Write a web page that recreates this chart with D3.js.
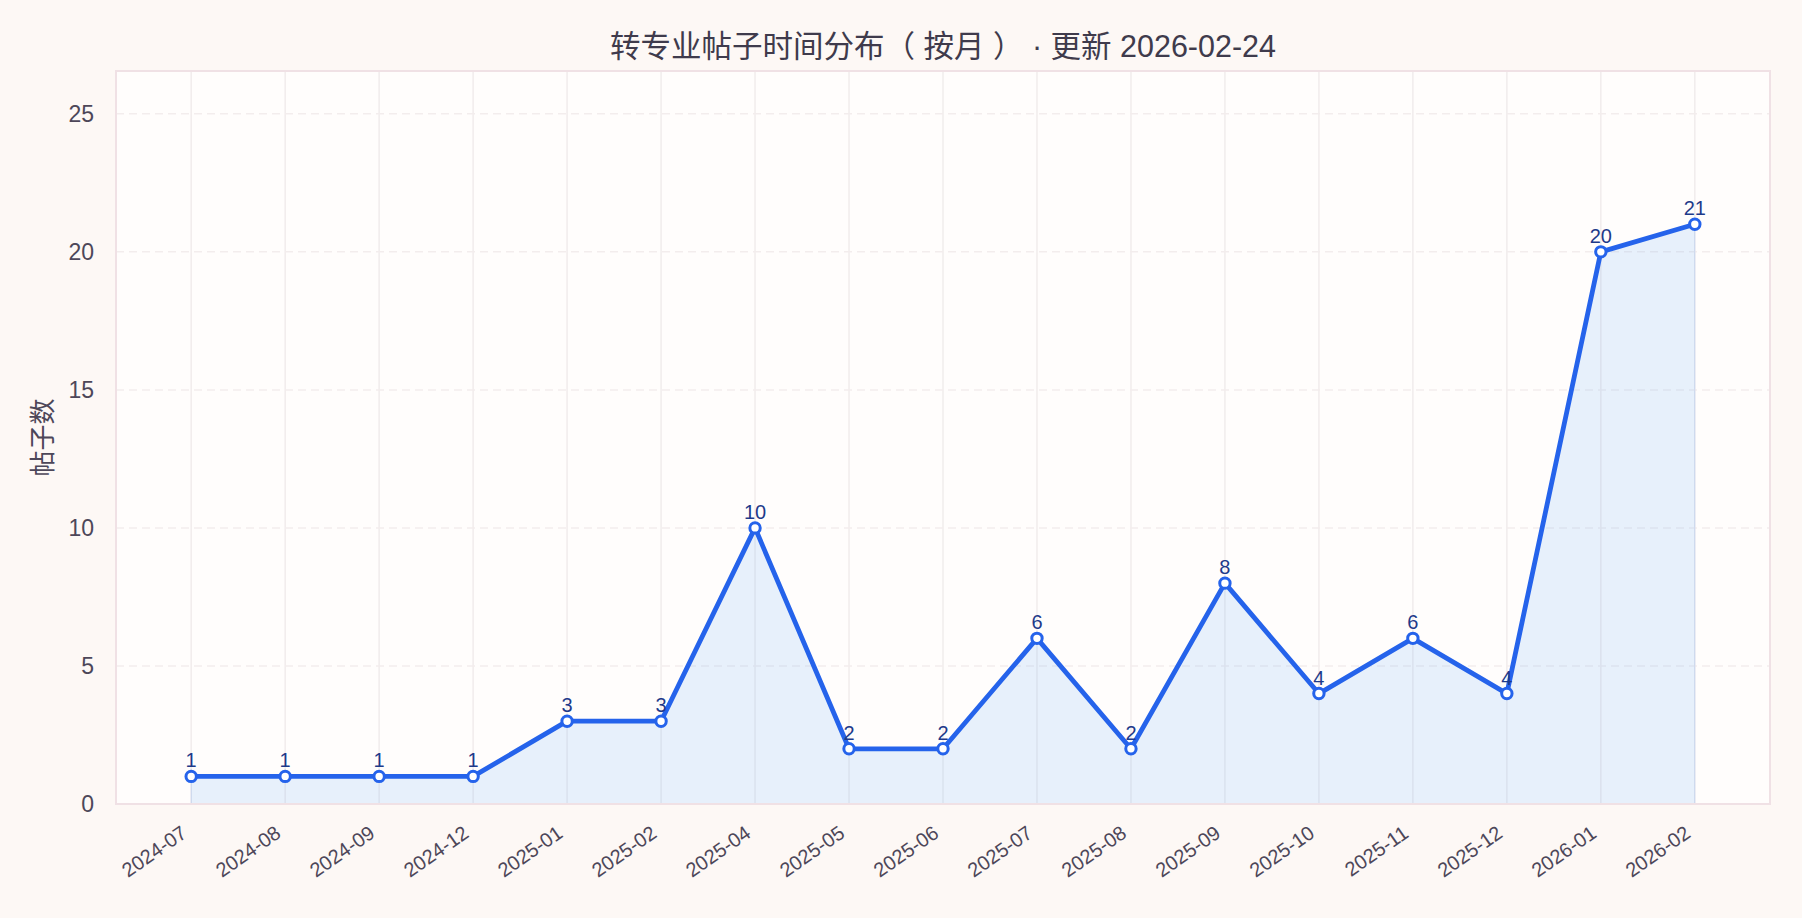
<!DOCTYPE html>
<html>
<head>
<meta charset="utf-8">
<script src="https://cdn.jsdelivr.net/npm/d3@7"></script>
<style>
  html, body { margin: 0; padding: 0; background: #fdf8f5; }
  svg { display: block; }
  text { font-family: "Liberation Sans", Arial, "Noto Sans CJK SC", sans-serif; }
</style>
</head>
<body>
<div id="graph"></div>
<script>
var months = ['2024-07', '2024-08', '2024-09', '2024-12', '2025-01', '2025-02', '2025-04',
  '2025-05', '2025-06', '2025-07', '2025-08', '2025-09', '2025-10', '2025-11', '2025-12',
  '2026-01', '2026-02']
var counts = [1, 1, 1, 1, 3, 3, 10, 2, 2, 6, 2, 8, 4, 6, 4, 20, 21]
var yTicks = [0, 5, 10, 15, 20, 25]
var title = '转专业帖子时间分布（ 按月 ） · 更新 2026-02-24'
var yLabel = '帖子数'

var w = 1802, h = 918
var m = {left: 116, right: 32, top: 71, bottom: 114}
var iw = w - m.left - m.right, ih = h - m.top - m.bottom

var data = months.map((d, i) => ({month: d, val: counts[i]}))

var svg = d3.select('#graph')
  .html('')
  .append('svg')
  .attr('width', w)
  .attr('height', h)

svg.append('rect')
  .attr('width', w)
  .attr('height', h)
  .attr('fill', '#fdf8f5')

var x = d3.scalePoint()
  .domain(months)
  .range([m.left, m.left + iw])
  .padding(0.8)

var y = d3.scaleLinear()
  .domain([0, 26.55])
  .range([m.top + ih, m.top])

// plot background
svg.append('rect')
  .attr('x', m.left)
  .attr('y', m.top)
  .attr('width', iw)
  .attr('height', ih)
  .attr('fill', '#fffdfc')

// grid
svg.append('g').selectAll('line')
  .data(months)
  .enter()
  .append('line')
  .attr('x1', d => x(d))
  .attr('x2', d => x(d))
  .attr('y1', m.top)
  .attr('y2', m.top + ih)
  .attr('stroke', '#f1ecec')
  .attr('stroke-width', 1.5)

svg.append('g').selectAll('line')
  .data(yTicks.filter(d => d > 0))
  .enter()
  .append('line')
  .attr('x1', m.left)
  .attr('x2', m.left + iw)
  .attr('y1', d => y(d))
  .attr('y2', d => y(d))
  .attr('stroke', '#f3eded')
  .attr('stroke-width', 1.5)
  .attr('stroke-dasharray', '8,5')

// area
var area = d3.area()
  .x(d => x(d.month))
  .y0(y(0))
  .y1(d => y(d.val))

svg.append('path')
  .datum(data)
  .attr('d', area)
  .attr('fill', '#60a5fa')
  .attr('fill-opacity', 0.15)
  .attr('stroke', '#3b82f6')
  .attr('stroke-opacity', 0.1)
  .attr('stroke-width', 1.5)

// border
svg.append('rect')
  .attr('x', m.left)
  .attr('y', m.top)
  .attr('width', iw)
  .attr('height', ih)
  .attr('fill', 'none')
  .attr('stroke', '#f0e1e5')
  .attr('stroke-width', 2)

// line
var line = d3.line()
  .x(d => x(d.month))
  .y(d => y(d.val))

svg.append('path')
  .datum(data)
  .attr('d', line)
  .attr('fill', 'none')
  .attr('stroke', '#2563eb')
  .attr('stroke-width', 4.8)
  .attr('stroke-linejoin', 'round')

svg.append('g').selectAll('circle')
  .data(data)
  .enter()
  .append('circle')
  .attr('cx', d => x(d.month))
  .attr('cy', d => y(d.val))
  .attr('r', 5.2)
  .attr('fill', '#ffffff')
  .attr('stroke', '#2563eb')
  .attr('stroke-width', 3)

svg.append('g').selectAll('text')
  .data(data)
  .enter()
  .append('text')
  .attr('x', d => x(d.month))
  .attr('y', d => y(d.val) - 9)
  .attr('text-anchor', 'middle')
  .attr('font-size', 20)
  .attr('fill', '#1e3a8a')
  .text(d => d.val)

// y axis labels
svg.append('g').selectAll('text')
  .data(yTicks)
  .enter()
  .append('text')
  .attr('x', 94)
  .attr('y', d => y(d))
  .attr('dy', '0.36em')
  .attr('text-anchor', 'end')
  .attr('font-size', 23)
  .attr('fill', '#4d4759')
  .text(d => d)

// x axis labels
svg.append('g').selectAll('text')
  .data(months)
  .enter()
  .append('text')
  .attr('transform', d => 'translate(' + (x(d) - 3) + ',836) rotate(-35)')
  .attr('text-anchor', 'end')
  .attr('font-size', 20)
  .attr('fill', '#4d4759')
  .text(d => d)

svg.append('text')
  .attr('transform', 'translate(52,' + (m.top + ih / 2) + ') rotate(-90)')
  .attr('text-anchor', 'middle')
  .attr('font-size', 26)
  .attr('fill', '#4d4759')
  .text(yLabel)

svg.append('text')
  .attr('x', m.left + iw / 2)
  .attr('y', 57)
  .attr('text-anchor', 'middle')
  .attr('font-size', 30.5)
  .attr('fill', '#3f3b4c')
  .text(title)
</script>
</body>
</html>
